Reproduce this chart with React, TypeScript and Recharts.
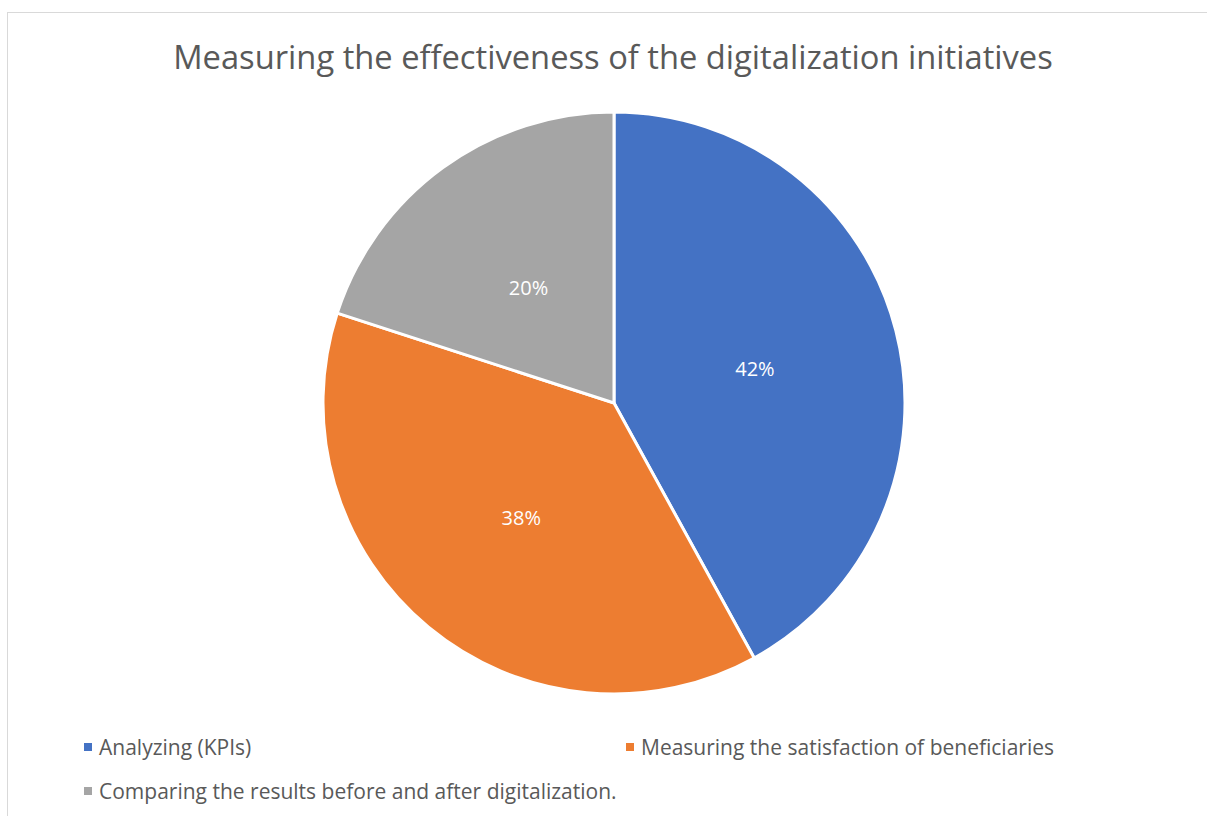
import React from "react";
import { PieChart, Pie, Cell, Legend } from "recharts";

const categories = [
  "Analyzing (KPIs)",
  "Measuring the satisfaction of beneficiaries",
  "Comparing the results before and after digitalization.",
];
const shares = [42, 38, 20];
const colors = ["#4472C4", "#ED7D31", "#A5A5A5"];

const data = categories.map((name, i) => ({ name, value: shares[i] }));

const FONT = "'Open Sans', 'Liberation Sans', sans-serif";
const RAD = Math.PI / 180;

const renderLabel = (props: any) => {
  const { cx, cy, midAngle, outerRadius, percent } = props;
  const r = outerRadius * 0.5;
  const x = cx + r * Math.cos(-midAngle * RAD);
  const y = cy + r * Math.sin(-midAngle * RAD) + 2;
  return (
    <text x={x} y={y} fill="#ffffff" fontSize={20} fontFamily={FONT} textAnchor="middle" dominantBaseline="central">
      {`${Math.round(percent * 100)}%`}
    </text>
  );
};

// legend slots, in category order
const legendPos = [
  { left: 76, top: 720 },
  { left: 618, top: 720 },
  { left: 76, top: 764 },
];

const renderLegend = (props: any) => {
  const { payload } = props;
  return (
    <div style={{ position: "relative", width: 1200, height: 90 }}>
      {payload.map((entry: any) => {
        const i = categories.indexOf(entry.value);
        const p = legendPos[i < 0 ? 0 : i];
        return (
          <div
            key={entry.value}
            style={{
              position: "absolute",
              left: p.left,
              top: p.top - 715,
              display: "flex",
              alignItems: "center",
              fontFamily: FONT,
              fontSize: 21,
              color: "#595959",
              whiteSpace: "nowrap",
            }}
          >
            <span style={{ width: 8, height: 8, background: colors[i], marginRight: 7, display: "inline-block" }} />
            {entry.value}
          </div>
        );
      })}
    </div>
  );
};

export default function App() {
  return (
    <div
      style={{
        position: "fixed",
        left: 7,
        top: 12,
        width: 1210,
        height: 820,
        border: "1px solid #d9d9d9",
        background: "#fff",
      }}
    >
      <div
        style={{
          position: "absolute",
          left: 0,
          width: 1210,
          top: 21,
          textAlign: "center",
          fontFamily: FONT,
          fontSize: 32.7,
          color: "#595959",
          whiteSpace: "nowrap",
        }}
      >
        Measuring the effectiveness of the digitalization initiatives
      </div>
      <PieChart width={1200} height={805} margin={{ top: 0, right: 0, bottom: 0, left: 0 }}>
        <Pie
          data={data}
          dataKey="value"
          nameKey="name"
          cx={606}
          cy={390}
          outerRadius={291}
          startAngle={90}
          endAngle={-270}
          stroke="#ffffff"
          strokeWidth={3}
          label={renderLabel}
          labelLine={false}
          isAnimationActive={false}
        >
          {data.map((d, i) => (
            <Cell key={d.name} fill={colors[i]} />
          ))}
        </Pie>
        <Legend
          content={renderLegend}
          wrapperStyle={{ position: "absolute", left: 0, top: 715, width: 1200 }}
        />
      </PieChart>
    </div>
  );
}
